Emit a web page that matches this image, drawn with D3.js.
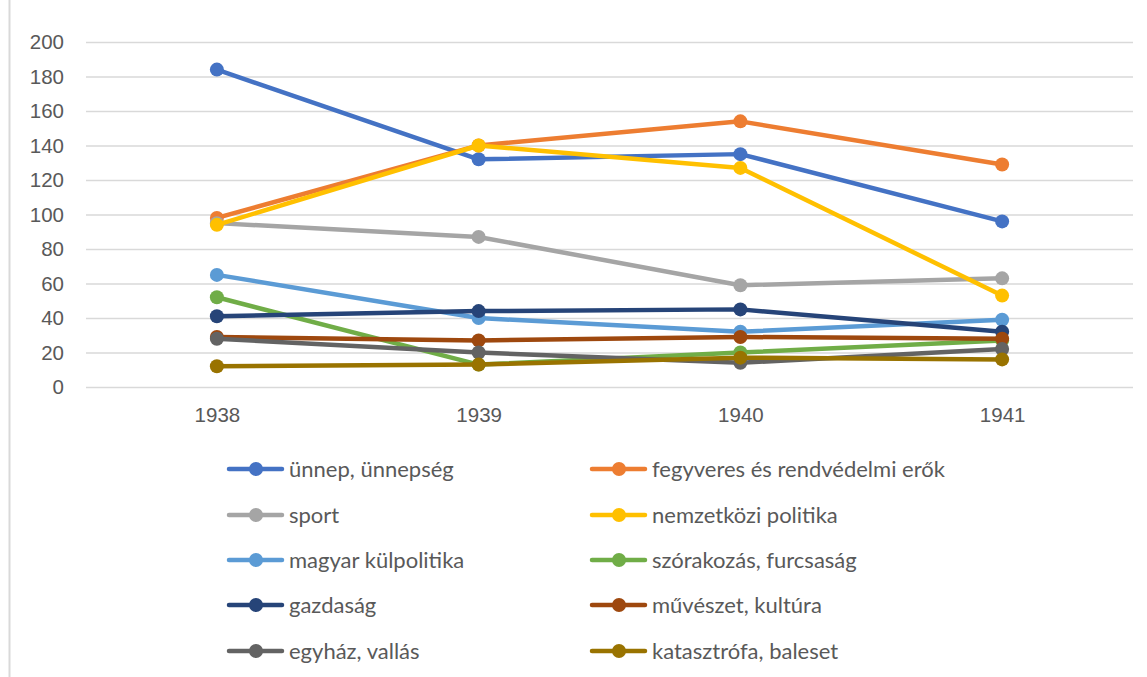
<!DOCTYPE html>
<html>
<head>
<meta charset="utf-8">
<script src="https://cdn.jsdelivr.net/npm/d3@7"></script>
<style>
  body { margin: 0; background: #fff; }
  svg { display: block; font-family: Lato, 'Open Sans', sans-serif; }
</style>
</head>
<body>
<svg id="chart"></svg>
<script>
// data
const years = ['1938', '1939', '1940', '1941'];
const yTicks = [0, 20, 40, 60, 80, 100, 120, 140, 160, 180, 200];

const unnep = [184, 132, 135, 96];
const fegyveres = [98, 140, 154, 129];
const sport = [95, 87, 59, 63];
const nemzetkozi = [94, 140, 127, 53];
const magyarKul = [65, 40, 32, 39];
const szorakozas = [52, 13, 20, 27];
const gazdasag = [41, 44, 45, 32];
const muveszet = [29, 27, 29, 28];
const egyhaz = [28, 20, 14, 22];
const katasztrofa = [12, 13, 17, 16];

const seriesNames = ['ünnep, ünnepség', 'fegyveres és rendvédelmi erők', 'sport', 'nemzetközi politika',
  'magyar külpolitika', 'szórakozás, furcsaság', 'gazdaság', 'művészet, kultúra', 'egyház, vallás', 'katasztrófa, baleset'];
const seriesValues = [unnep, fegyveres, sport, nemzetkozi, magyarKul, szorakozas, gazdasag, muveszet, egyhaz, katasztrofa];
const colors = ['#4472C4', '#ED7D31', '#A5A5A5', '#FFC000', '#5B9BD5', '#70AD47', '#264478', '#9E480E', '#636363', '#997300'];

const series = seriesNames.map((name, i) => ({ name, color: colors[i], values: seriesValues[i] }));

const W = 1147, H = 677;
const plot = { left: 86, right: 1133, top: 42, bottom: 387 };

const svg = d3.select('#chart').attr('width', W).attr('height', H);

// chart frame (left edge only visible in the crop)
svg.append('line')
  .attr('x1', 9.5).attr('x2', 9.5).attr('y1', 0).attr('y2', H)
  .attr('stroke', '#d9d9d9').attr('stroke-width', 2);

const x = d3.scalePoint().domain(years).range([plot.left, plot.right]).padding(0.5);
const y = d3.scaleLinear().domain([0, 200]).range([plot.bottom, plot.top]);

// gridlines + y labels
const yAxis = svg.append('g')
  .attr('transform', 'translate(' + plot.left + ',0)')
  .call(d3.axisLeft(y).tickValues(yTicks).tickSize(-(plot.right - plot.left)).tickPadding(22));
yAxis.select('.domain').remove();
yAxis.selectAll('.tick line').attr('stroke', '#d9d9d9').attr('stroke-width', 1.5);
yAxis.selectAll('.tick text').attr('fill', '#595959').style('font-size', '20.5px');

// x labels
const xAxis = svg.append('g')
  .attr('transform', 'translate(0,' + plot.bottom + ')')
  .call(d3.axisBottom(x).tickSize(0).tickPadding(20));
xAxis.select('.domain').remove();
xAxis.selectAll('.tick text').attr('fill', '#595959').style('font-size', '20.5px');

const line = d3.line()
  .x((d, i) => x(years[i]))
  .y(d => y(d));

const g = svg.append('g');
series.forEach(s => {
  g.append('path')
    .datum(s.values)
    .attr('fill', 'none')
    .attr('stroke', s.color)
    .attr('stroke-width', 4.5)
    .attr('stroke-linejoin', 'round')
    .attr('d', line);
  g.selectAll(null)
    .data(s.values)
    .join('circle')
    .attr('cx', (d, i) => x(years[i]))
    .attr('cy', d => y(d))
    .attr('r', 7)
    .attr('fill', s.color);
});

// legend, two columns
const legendRows = [469, 515, 560, 605, 651];
const legendCols = [229, 592];
const legend = svg.append('g');
series.forEach((s, i) => {
  const lx = legendCols[i % 2];
  const ly = legendRows[Math.floor(i / 2)];
  const item = legend.append('g').attr('transform', 'translate(' + lx + ',' + ly + ')');
  item.append('line')
    .attr('x1', 0).attr('x2', 53).attr('y1', 0).attr('y2', 0)
    .attr('stroke', s.color).attr('stroke-width', 4.5).attr('stroke-linecap', 'round');
  item.append('circle').attr('cx', 27).attr('cy', 0).attr('r', 7).attr('fill', s.color);
  item.append('text')
    .attr('x', 60).attr('y', 0).attr('dy', '0.35em')
    .attr('fill', '#595959').style('font-size', '22px')
    .text(s.name);
});
</script>
</body>
</html>
